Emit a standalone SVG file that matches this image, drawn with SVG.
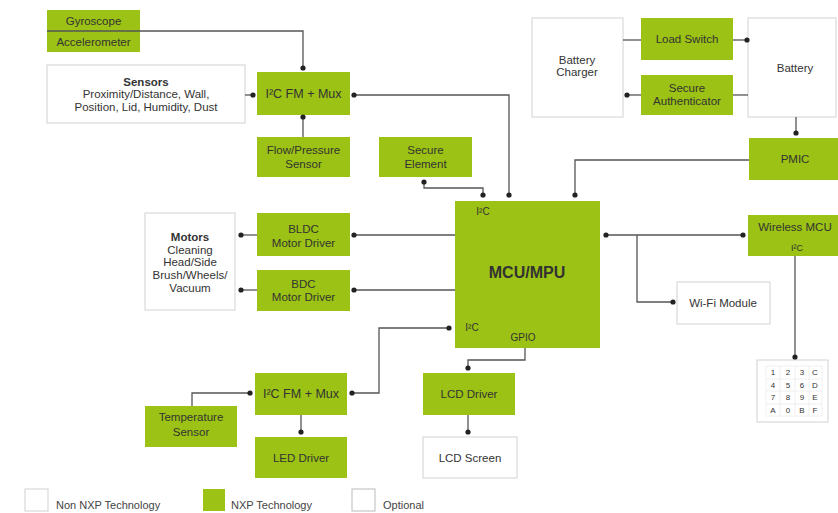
<svg xmlns="http://www.w3.org/2000/svg" width="838" height="513" viewBox="0 0 838 513">
<style>
.g{fill:#9bc214;}
.w{fill:#fff;stroke:#d2d2d2;stroke-width:1;}
text{font-family:"Liberation Sans",Arial,sans-serif;font-size:11.5px;fill:#333;text-anchor:middle;}
.b{font-weight:bold;}
.s{font-size:9px;}
.k{font-size:8px;fill:#333;}
.l{text-anchor:start;font-size:11px;fill:#444;}
.c path{fill:none;stroke:#555;stroke-width:1.3;}
</style>
<defs>
<marker id="d" viewBox="0 0 6 6" refX="3" refY="3" markerWidth="6" markerHeight="6" markerUnits="userSpaceOnUse"><circle cx="3" cy="3" r="2.6" fill="#222"/></marker>
</defs>
<rect width="838" height="513" fill="#fff"/>

<g id="gyroscope"><rect class="g" x="47" y="10" width="93" height="21"/><text x="93.5" y="25">Gyroscope</text></g>
<g id="accelerometer"><rect class="g" x="47" y="31" width="93" height="21"/><text x="93.5" y="46">Accelerometer</text></g>
<g id="sensors"><rect class="w" x="47" y="65" width="198" height="58"/><text class="b" x="146" y="86">Sensors</text><text x="146" y="98">Proximity/Distance, Wall,</text><text x="146" y="111">Position, Lid, Humidity, Dust</text></g>
<g id="mux1"><rect class="g" x="257" y="72" width="93" height="43"/><text x="303.5" y="98" style="font-size:12.5px">I²C FM + Mux</text></g>
<g id="flow"><rect class="g" x="257" y="137" width="93" height="40"/><text x="303.5" y="154">Flow/Pressure</text><text x="303.5" y="168">Sensor</text></g>
<g id="secure-element"><rect class="g" x="379" y="137" width="93" height="40"/><text x="425.5" y="154">Secure</text><text x="425.5" y="168">Element</text></g>
<g id="battery-charger"><rect class="w" x="532" y="18" width="91" height="99"/><text x="577" y="64">Battery</text><text x="577" y="76">Charger</text></g>
<g id="load-switch"><rect class="g" x="641" y="18" width="92" height="42"/><text x="687" y="43">Load Switch</text></g>
<g id="secure-auth"><rect class="g" x="641" y="75" width="92" height="40"/><text x="687" y="92">Secure</text><text x="687" y="105">Authenticator</text></g>
<g id="battery"><rect class="w" x="748" y="18" width="88" height="99"/><text x="795" y="72">Battery</text></g>
<g id="pmic"><rect class="g" x="749" y="138" width="89" height="42"/><text x="795" y="163">PMIC</text></g>
<g id="mcu"><rect class="g" x="455" y="201" width="145" height="147"/><text x="483" y="215" style="font-size:10px">I²C</text><text class="b" x="527" y="278" style="font-size:16px">MCU/MPU</text><text x="472" y="331" style="font-size:10px">I²C</text><text x="523" y="341" style="font-size:10px">GPIO</text></g>
<g id="wireless-mcu"><rect class="g" x="748" y="215" width="90" height="41"/><text x="795" y="231">Wireless MCU</text><text class="s" x="797" y="251">I²C</text></g>
<g id="wifi"><rect class="w" x="677" y="282" width="93" height="42"/><text x="723" y="307">Wi-Fi Module</text></g>
<g id="keypad"><rect class="w" x="757" y="360" width="71" height="62"/>
<path d="M766,366H822M766,379H822M766,391H822M766,404H822M766,416H822M766,366V416M780,366V416M795,366V416M809,366V416M822,366V416" fill="none" stroke="#ececec" stroke-width="0.8"/>
<text class="k" x="773" y="375">1</text><text class="k" x="788" y="375">2</text><text class="k" x="802" y="375">3</text><text class="k" x="815" y="375">C</text>
<text class="k" x="773" y="388">4</text><text class="k" x="788" y="388">5</text><text class="k" x="802" y="388">6</text><text class="k" x="815" y="388">D</text>
<text class="k" x="773" y="400">7</text><text class="k" x="788" y="400">8</text><text class="k" x="802" y="400">9</text><text class="k" x="815" y="400">E</text>
<text class="k" x="773" y="413">A</text><text class="k" x="788" y="413">0</text><text class="k" x="802" y="413">B</text><text class="k" x="815" y="413">F</text></g>
<g id="motors"><rect class="w" x="145" y="213" width="90" height="97"/><text class="b" x="190" y="241">Motors</text><text x="190" y="254">Cleaning</text><text x="190" y="266">Head/Side</text><text x="190" y="279">Brush/Wheels/</text><text x="190" y="292">Vacuum</text></g>
<g id="bldc"><rect class="g" x="257" y="213" width="93" height="43"/><text x="303.5" y="233">BLDC</text><text x="303.5" y="247">Motor Driver</text></g>
<g id="bdc"><rect class="g" x="257" y="270" width="93" height="41"/><text x="303.5" y="288">BDC</text><text x="303.5" y="301">Motor Driver</text></g>
<g id="mux2"><rect class="g" x="255" y="373" width="92" height="42"/><text x="301" y="398" style="font-size:12.5px">I²C FM + Mux</text></g>
<g id="lcd-driver"><rect class="g" x="423" y="373" width="92" height="42"/><text x="469" y="398">LCD Driver</text></g>
<g id="lcd-screen"><rect class="w" x="423" y="437" width="94" height="41"/><text x="470" y="462">LCD Screen</text></g>
<g id="led-driver"><rect class="g" x="255" y="437" width="92" height="41"/><text x="301" y="462">LED Driver</text></g>
<g id="temp"><rect class="g" x="145" y="406" width="92" height="41"/><text x="191" y="421">Temperature</text><text x="191" y="436">Sensor</text></g>

<g id="connectors" class="c">
<path d="M47,31H303V68" marker-end="url(#d)"/>
<path d="M245,95H253" marker-end="url(#d)"/>
<path d="M354,95H509V195" marker-start="url(#d)" marker-end="url(#d)"/>
<path d="M303,137V117" marker-end="url(#d)"/>
<path d="M424,182V188H483V195" marker-start="url(#d)" marker-end="url(#d)"/>
<path d="M623,40H641"/>
<path d="M733,40H747" marker-end="url(#d)"/>
<path d="M748,95H733"/>
<path d="M641,95H627" marker-end="url(#d)"/>
<path d="M796,117V133" marker-end="url(#d)"/>
<path d="M749,160H575V195" marker-end="url(#d)"/>
<path d="M606,235H743" marker-start="url(#d)" marker-end="url(#d)"/>
<path d="M637,235V302H673" marker-end="url(#d)"/>
<path d="M795,256V357" marker-end="url(#d)"/>
<path d="M455,235H354" marker-end="url(#d)"/>
<path d="M257,235H241" marker-end="url(#d)"/>
<path d="M455,290H354" marker-end="url(#d)"/>
<path d="M257,290H241" marker-end="url(#d)"/>
<path d="M352,393H379V328H449" marker-start="url(#d)" marker-end="url(#d)"/>
<path d="M525,348V360H468V368" marker-end="url(#d)"/>
<path d="M468,415V432" marker-end="url(#d)"/>
<path d="M301,415V432" marker-end="url(#d)"/>
<path d="M192,406V393H250" marker-end="url(#d)"/>
</g>

<g id="legend">
<rect class="w" x="25" y="489" width="23" height="22"/><text class="l" x="56" y="509">Non NXP Technology</text>
<rect class="g" x="203" y="489" width="22" height="22"/><text class="l" x="231" y="509">NXP Technology</text>
<rect x="352" y="489" width="23" height="22" fill="#fff" stroke="#bbb"/><text class="l" x="383" y="509">Optional</text>
</g>
</svg>
